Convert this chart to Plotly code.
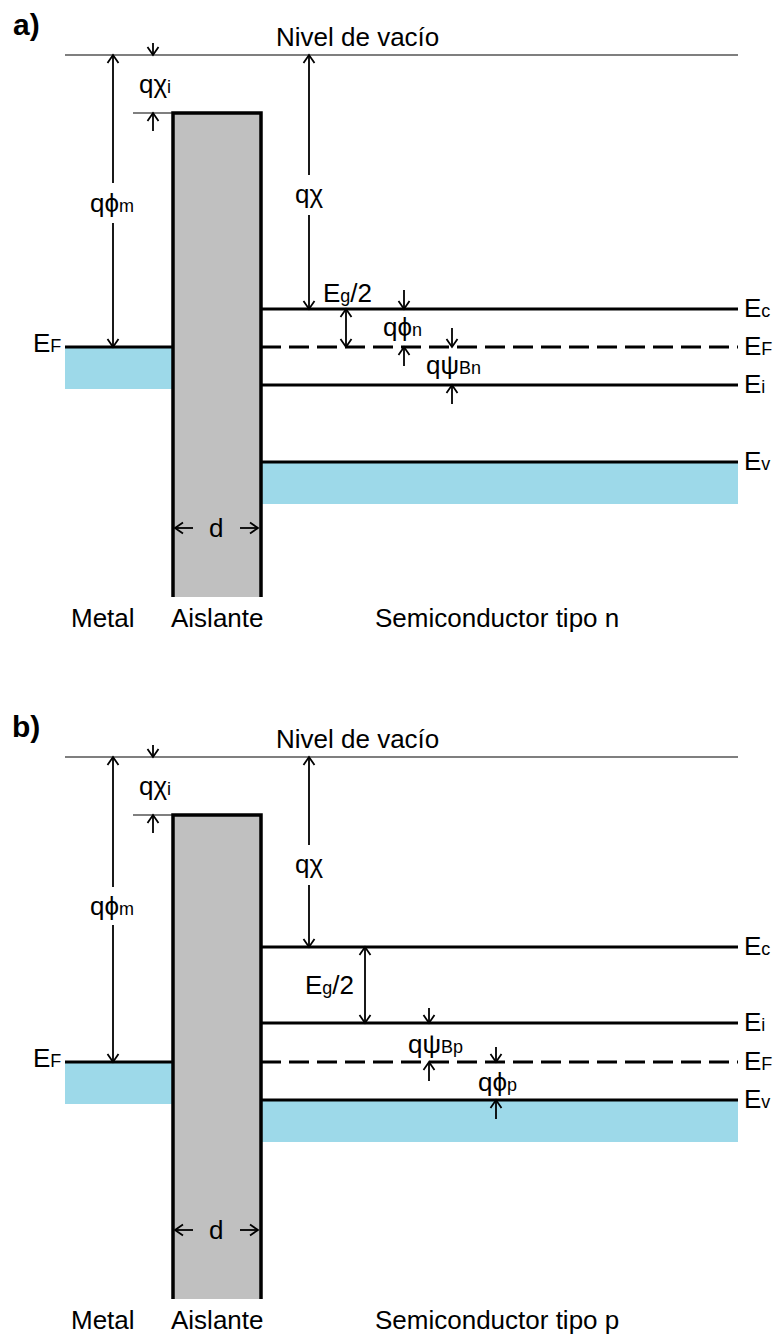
import plotly.graph_objects as go

W, H = 774, 1335
FONT = "Liberation Sans, Arial, sans-serif"

# ---- energy levels of the two MIS structures (depth below vacuum level) ----
panel_tags = ["a)", "b)"]
semi_types = ["Semiconductor tipo n", "Semiconductor tipo p"]
vacuum_pos = [55, 757]           # where each panel's vacuum level sits
insulator_top = [58, 58]
insulator_bottom = [542, 542]
metal_ef = [292, 305]
semi_ec = [254, 190]
semi_ef = [292, 305]
semi_ei = [330, 266]
semi_ev = [407, 343]
band_depth = [42, 42]

shapes = []
annotations = []

X_METAL0, X_INS0, X_INS1, X_END = 65, 173, 261, 738
BLUE = "#9dd9e9"
GRAY = "#c0c0c0"
ARROW_W = 1.8


def line(x0, y0, x1, y1, width=3, dash="solid"):
    shapes.append(dict(type="line", xref="x", yref="y", x0=x0, y0=y0, x1=x1, y1=y1,
                       line=dict(color="black", width=width, dash=dash)))


def rect(x0, y0, x1, y1, color):
    shapes.append(dict(type="rect", xref="x", yref="y", x0=x0, y0=y0, x1=x1, y1=y1,
                       fillcolor=color, line=dict(width=0), layer="below"))


def head(x, y, direction, size=5.5, length=8):
    if direction == "down":
        p = f"M{x-size},{y-length} L{x},{y} L{x+size},{y-length}"
    elif direction == "up":
        p = f"M{x-size},{y+length} L{x},{y} L{x+size},{y+length}"
    elif direction == "left":
        p = f"M{x+length},{y-size} L{x},{y} L{x+length},{y+size}"
    else:
        p = f"M{x-length},{y-size} L{x},{y} L{x-length},{y+size}"
    shapes.append(dict(type="path", xref="x", yref="y", path=p,
                       line=dict(color="black", width=ARROW_W)))


def down_arrow(x, y_tip, length=19):
    line(x, y_tip - length, x, y_tip, width=ARROW_W)
    head(x, y_tip, "down")


def up_arrow(x, y_tip, length=19):
    line(x, y_tip, x, y_tip + length, width=ARROW_W)
    head(x, y_tip, "up")


def text(x, y, s, size=26, anchor="center", bold=False):
    if bold:
        s = f"<b>{s}</b>"
    annotations.append(dict(x=x, y=y, xref="x", yref="y", text=s, showarrow=False,
                            xanchor=anchor, yanchor="middle",
                            font=dict(family=FONT, size=size, color="black")))


def sub(main, small):
    return f"{main}<span style='font-size:18px'>{small}</span>"


for p in range(2):
    v = vacuum_pos[p]
    ins_top = v + insulator_top[p]
    ins_bot = v + insulator_bottom[p]
    ef_m = v + metal_ef[p]
    ec = v + semi_ec[p]
    ef = v + semi_ef[p]
    ei = v + semi_ei[p]
    ev = v + semi_ev[p]

    # filled bands
    rect(X_METAL0, ef_m, X_INS0, ef_m + band_depth[p], BLUE)
    rect(X_INS1, ev, X_END, ev + band_depth[p], BLUE)
    rect(X_INS0, ins_top, X_INS1, ins_bot, GRAY)

    # vacuum level
    line(X_METAL0, v, X_END, v, width=1.2)
    text(357, v - 18, "Nivel de vacío")
    text(26, v - 31, panel_tags[p], size=30, bold=True)

    # insulator outline (open at the bottom)
    shapes.append(dict(type="path", xref="x", yref="y",
                       path=f"M{X_INS0},{ins_bot} L{X_INS0},{ins_top} L{X_INS1},{ins_top} L{X_INS1},{ins_bot}",
                       line=dict(color="black", width=3.5)))
    line(133, ins_top, X_INS0, ins_top, width=1.2)

    # metal Fermi level
    line(X_METAL0, ef_m, X_INS0, ef_m, width=3.2)
    text(63, ef_m - 4, sub("E", "F"), anchor="right")

    # semiconductor levels
    line(X_INS1, ec, X_END, ec, width=3.2)
    line(X_INS1, ef, X_END, ef, width=3.2, dash="20px,8px")
    line(X_INS1, ei, X_END, ei, width=3)
    line(X_INS1, ev, X_END, ev, width=3.2)
    text(742, ec - 1, sub("E", "c"), anchor="left")
    text(742, ef - 1, sub("E", "F"), anchor="left")
    text(742, ei - 1, sub("E", "i"), anchor="left")
    text(742, ev - 1, sub("E", "v"), anchor="left")

    # q chi_i
    down_arrow(153, v, length=12)
    up_arrow(153, ins_top, length=18)
    text(155, v + 29, sub("qχ", "i"))

    # q phi_m (broken around its label)
    gap_m = (v + 128, v + 168) if p == 0 else (v + 130, v + 168)
    line(113, v, 113, gap_m[0], width=ARROW_W)
    line(113, gap_m[1], 113, ef_m, width=ARROW_W)
    head(113, v, "up")
    head(113, ef_m, "down")
    text(112, (gap_m[0] + gap_m[1]) / 2, sub("qϕ", "m"))

    # q chi (broken around its label)
    gap_c = (v + 120, v + 160) if p == 0 else (v + 88, v + 128)
    line(309, v, 309, gap_c[0], width=ARROW_W)
    line(309, gap_c[1], 309, ec, width=ARROW_W)
    head(309, v, "up")
    head(309, ec, "down")
    text(309, (gap_c[0] + gap_c[1]) / 2 - 1, "qχ")

    # insulator thickness
    yd = v + 473
    line(175, yd, 193, yd, width=ARROW_W)
    head(175, yd, "left")
    line(240, yd, 258, yd, width=ARROW_W)
    head(258, yd, "right")
    text(216, yd, "d")

    # region names
    yl = v + 563
    text(103, yl, "Metal")
    text(217, yl, "Aislante")
    text(497, yl, semi_types[p])

    if p == 0:
        # Eg/2 between Ec and EF
        line(346, ec, 346, ef, width=ARROW_W)
        head(346, ec, "up")
        head(346, ef, "down")
        text(321, ec - 16, sub("E", "g") + "/2", anchor="left")
        # q phi_n
        down_arrow(404, ec)
        up_arrow(404, ef)
        text(402, (ec + ef) / 2 - 1, sub("qϕ", "n"))
        # q psi_Bn
        down_arrow(452, ef)
        up_arrow(452, ei)
        text(424, (ef + ei) / 2 - 1, sub("qψ", "Bn"), anchor="left")
    else:
        # Eg/2 between Ec and Ei
        line(365, ec, 365, ei, width=ARROW_W)
        head(365, ec, "up")
        head(365, ei, "down")
        text(329, (ec + ei) / 2, sub("E", "g") + "/2")
        # q psi_Bp
        down_arrow(429, ei, length=15)
        up_arrow(429, ef)
        text(406, (ei + ef) / 2 + 1, sub("qψ", "Bp"), anchor="left")
        # q phi_p
        down_arrow(496, ef, length=15)
        up_arrow(496, ev)
        text(497, (ef + ev) / 2 + 1, sub("qϕ", "p"))

fig = go.Figure()
fig.add_trace(go.Scatter(x=[0, W], y=[0, H], mode="markers",
                         marker=dict(opacity=0), hoverinfo="skip", showlegend=False))
fig.update_layout(
    width=W, height=H,
    margin=dict(l=0, r=0, t=0, b=0),
    paper_bgcolor="white", plot_bgcolor="white",
    shapes=shapes, annotations=annotations, showlegend=False,
    xaxis=dict(range=[0, W], visible=False, fixedrange=True),
    yaxis=dict(range=[H, 0], visible=False, fixedrange=True),
)
fig.write_html("out.html", config={"displayModeBar": False})
